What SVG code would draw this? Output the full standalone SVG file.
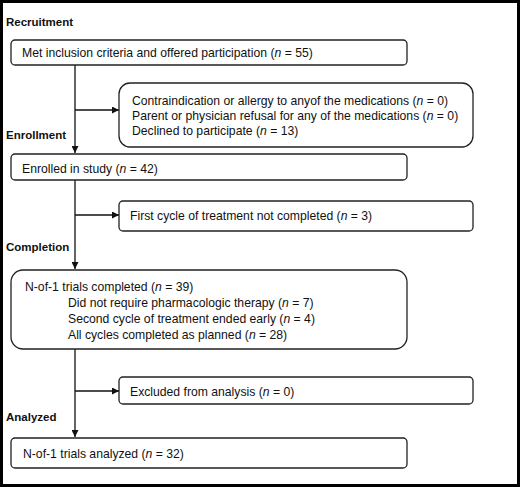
<svg xmlns="http://www.w3.org/2000/svg" width="520" height="487" viewBox="0 0 520 487">
<defs>
<marker id="ah" viewBox="0 0 10 10" refX="10" refY="5" markerWidth="7" markerHeight="7" markerUnits="userSpaceOnUse" orient="auto">
<path d="M0,0 L10,5 L0,10 z" fill="#111"/>
</marker>
<style>
.box{fill:#fff;stroke:#222;stroke-width:1.3}
.t{font-family:"Liberation Sans",Arial,sans-serif;font-size:12.2px;fill:#111}
.h{font-family:"Liberation Sans",Arial,sans-serif;font-size:11.5px;font-weight:bold;fill:#111}
.c{fill:none;stroke:#111;stroke-width:1.3}
</style>
</defs>
<rect x="0" y="0" width="520" height="487" fill="#fff"/>
<rect x="1.5" y="1.5" width="517" height="484" fill="none" stroke="#000" stroke-width="3"/>
<text class="h" x="6" y="26">Recruitment</text>
<text class="h" x="6" y="139">Enrollment</text>
<text class="h" x="6" y="251">Completion</text>
<text class="h" x="6" y="421">Analyzed</text>
<g id="connectors">
<path class="c" d="M75,65 V153" marker-end="url(#ah)"/>
<path class="c" d="M75,110 H119" marker-end="url(#ah)"/>
<path class="c" d="M75,180 V269" marker-end="url(#ah)"/>
<path class="c" d="M75,215 H119" marker-end="url(#ah)"/>
<path class="c" d="M75,349 V437" marker-end="url(#ah)"/>
<path class="c" d="M75,391 H119" marker-end="url(#ah)"/>
</g>
<g id="n1">
<rect class="box" x="11" y="40" width="396" height="25" rx="4"/>
<text class="t" x="22" y="56.5">Met inclusion criteria and offered participation (<tspan font-style="italic">n</tspan> = 55)</text>
</g>
<g id="n2">
<rect class="box" x="119" y="83" width="354" height="64" rx="11"/>
<text class="t" x="132" y="104.5">Contraindication or allergy to anyof the medications (<tspan font-style="italic">n</tspan> = 0)</text>
<text class="t" x="132" y="119.5">Parent or physician refusal for any of the medications (<tspan font-style="italic">n</tspan> = 0)</text>
<text class="t" x="132" y="134.5">Declined to participate (<tspan font-style="italic">n</tspan> = 13)</text>
</g>
<g id="n3">
<rect class="box" x="11" y="154" width="396" height="26" rx="4"/>
<text class="t" x="22" y="172.5">Enrolled in study (<tspan font-style="italic">n</tspan> = 42)</text>
</g>
<g id="n4">
<rect class="box" x="119" y="201" width="354" height="30" rx="4"/>
<text class="t" x="130" y="219.5">First cycle of treatment not completed (<tspan font-style="italic">n</tspan> = 3)</text>
</g>
<g id="n5">
<rect class="box" x="11" y="270" width="396" height="79" rx="12"/>
<text class="t" x="25" y="291">N-of-1 trials completed (<tspan font-style="italic">n</tspan> = 39)</text>
<text class="t" x="68" y="307">Did not require pharmacologic therapy (<tspan font-style="italic">n</tspan> = 7)</text>
<text class="t" x="68" y="323">Second cycle of treatment ended early (<tspan font-style="italic">n</tspan> = 4)</text>
<text class="t" x="68" y="339">All cycles completed as planned (<tspan font-style="italic">n</tspan> = 28)</text>
</g>
<g id="n6">
<rect class="box" x="119" y="377" width="354" height="27" rx="4"/>
<text class="t" x="130" y="396">Excluded from analysis (<tspan font-style="italic">n</tspan> = 0)</text>
</g>
<g id="n7">
<rect class="box" x="11" y="438" width="396" height="30" rx="4"/>
<text class="t" x="23" y="458">N-of-1 trials analyzed (<tspan font-style="italic">n</tspan> = 32)</text>
</g>
</svg>
